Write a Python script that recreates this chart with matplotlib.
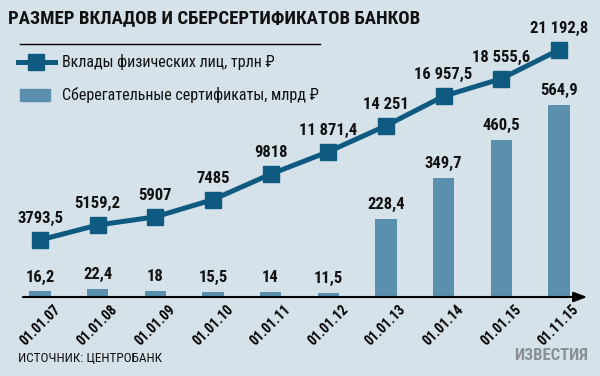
import matplotlib
matplotlib.use("Agg")
import matplotlib.pyplot as plt
from matplotlib import font_manager

dates = ["01.01.07", "01.01.08", "01.01.09", "01.01.10", "01.01.11",
         "01.01.12", "01.01.13", "01.01.14", "01.01.15", "01.11.15"]
deposits = [3793.5, 5159.2, 5907, 7485, 9818, 11871.4, 14251, 16957.5, 18555.6, 21192.8]
certificates = [16.2, 22.4, 18, 15.5, 14, 11.5, 228.4, 349.7, 460.5, 564.9]

BG = "#d6e2ea"
LINE = "#0f5a80"
BAR = "#5b8fae"

names = {f.name for f in font_manager.fontManager.ttflist}
narrow = [n for n in ["Roboto Condensed", "Liberation Sans Narrow", "DejaVu Sans Condensed"] if n in names]
plt.rcParams["font.family"] = narrow + ["DejaVu Sans"]


def fmt(v):
    s = f"{v:.1f}" if v != int(v) else f"{int(v)}"
    whole, _, frac = s.partition(".")
    if len(whole) > 4:
        whole = whole[:-3] + " " + whole[-3:]
    return whole + ("," + frac if frac else "")


fig = plt.figure(figsize=(6, 3.76), dpi=100, facecolor=BG)
W, H = 600, 376
ax = fig.add_axes([20 / W, (H - 297) / H, 570 / W, 267 / H])
ax.set_facecolor("none")
x = list(range(len(dates)))
ax.bar(x, certificates, width=0.37, color=BAR, zorder=2)
ax.set_xlim(-0.347, 9.54)
ax.set_ylim(0, 785)
for xi, v in zip(x, certificates):
    ax.annotate(fmt(v), (xi, v), xytext=(0, 5), textcoords="offset points",
                ha="center", va="bottom", fontsize=12, fontweight="bold", color="#111111")

ax2 = ax.twinx()
ax2.set_ylim(-1430, 23020)
ax2.plot(x, deposits, color=LINE, lw=3.6, marker="s", ms=11.5, zorder=3)
for xi, v in zip(x, deposits):
    ax2.annotate(fmt(v), (xi, v), xytext=(0, 10), textcoords="offset points",
                 ha="center", va="bottom", fontsize=12, fontweight="bold", color="#111111")

for a in (ax, ax2):
    for s in a.spines.values():
        s.set_visible(False)
    a.set_yticks([])
ax.set_xticks(x)
ax.set_xticklabels(dates, rotation=45, ha="center", va="top", fontsize=10, fontweight="bold")
ax.get_xticklabels()[-1].set_fontweight("heavy")
ax.tick_params(axis="x", length=0, pad=4)
ax.annotate("", xy=(1.0, 0), xytext=(0, 0), xycoords="axes fraction",
            arrowprops=dict(arrowstyle="-|>,head_length=0.8,head_width=0.3", color="black", lw=1.5))

fig.text(8 / W, 1 - 18 / H, "РАЗМЕР ВКЛАДОВ И СБЕРСЕРТИФИКАТОВ БАНКОВ",
         fontsize=13.5, fontweight="bold", va="center", ha="left", color="#111111")
fig.add_artist(plt.Line2D([20 / W, 320 / W], [1 - 44 / H, 1 - 44 / H], color="black", lw=1))
fig.add_artist(plt.Line2D([18 / W, 55 / W], [1 - 62 / H, 1 - 62 / H], color=LINE, lw=3.6))
fig.add_artist(plt.Line2D([36 / W], [1 - 62 / H], color=LINE, marker="s", ms=11))
fig.add_artist(plt.Rectangle((20 / W, 1 - 101 / H), 30 / W, 12 / H, color=BAR))
fig.text(62 / W, 1 - 62 / H, "Вклады физических лиц, трлн ₽", fontsize=11.5, va="center", color="#111111")
fig.text(62 / W, 1 - 95 / H, "Сберегательные сертификаты, млрд ₽", fontsize=11.5, va="center", color="#111111")
fig.text(18 / W, 1 - 358 / H, "ИСТОЧНИК: ЦЕНТРОБАНК", fontsize=9.5, va="center", color="#111111")
fig.text(588 / W, 1 - 356 / H, "ИЗВЕСТИЯ", fontsize=12, fontweight="heavy", va="center", ha="right", color="#8a8f94")

fig.savefig("out.png", dpi=100, facecolor=BG)
